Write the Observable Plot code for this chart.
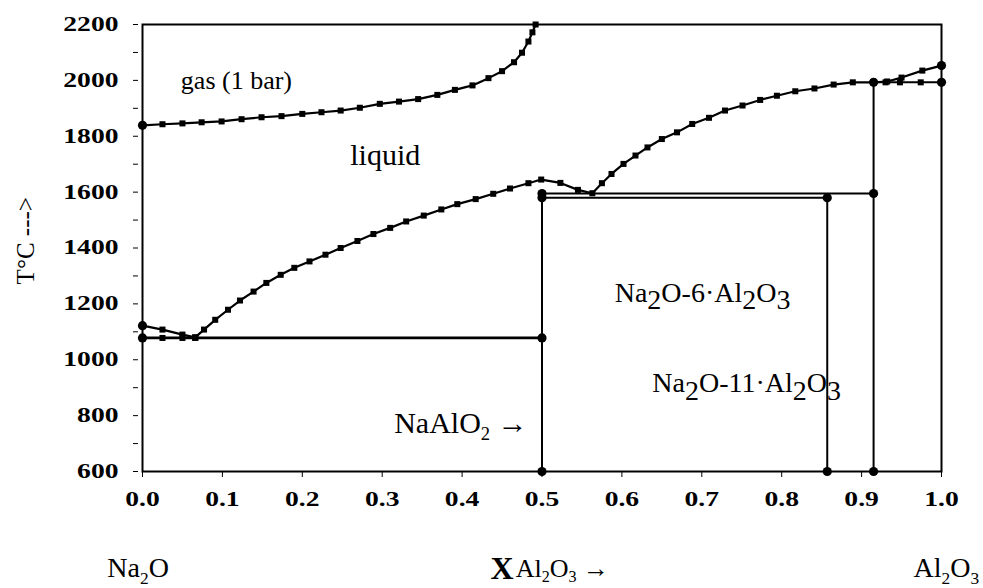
<!DOCTYPE html>
<html><head><meta charset="utf-8">
<script src="https://cdn.jsdelivr.net/npm/d3@7"></script>
<script src="https://cdn.jsdelivr.net/npm/@observablehq/plot@0.6"></script>
<style>
body{margin:0;background:#fff;}
svg{display:block;}
svg text, svg tspan{font-family:"Liberation Serif","Times New Roman",serif !important;}
</style>
</head><body><div id="chart"></div>
<script>
// ---- tick values ----
const xTicks = [0, 0.1, 0.2, 0.3, 0.4, 0.5, 0.6, 0.7, 0.8, 0.9, 1.0];
const yTicks = [600, 800, 1000, 1200, 1400, 1600, 1800, 2000, 2200];
const yMinorTicks = [600, 700, 800, 900, 1000, 1100, 1200, 1300, 1400, 1500, 1600, 1700, 1800, 1900, 2000, 2100, 2200];

// ---- gas (1 bar) boundary ----
const gasX = [0.000, 0.025, 0.050, 0.074, 0.099, 0.124, 0.149, 0.174, 0.200, 0.224, 0.248, 0.272, 0.297, 0.321, 0.345, 0.369, 0.391, 0.413, 0.433, 0.450, 0.465, 0.475, 0.483, 0.488, 0.492];
const gasT = [1839, 1843, 1846, 1850, 1853, 1861, 1868, 1872, 1880, 1886, 1892, 1902, 1916, 1924, 1933, 1948, 1966, 1982, 2008, 2033, 2065, 2099, 2139, 2172, 2200];

// ---- Na2O liquidus ----
const na2oLiqX = [0.000, 0.025, 0.050, 0.066];
const na2oLiqT = [1122, 1108, 1090, 1080];

// ---- main liquidus ----
const liqX = [0.066, 0.077, 0.091, 0.107, 0.122, 0.139, 0.155, 0.173, 0.190, 0.209, 0.229, 0.248, 0.269, 0.289, 0.310, 0.330, 0.352, 0.374, 0.394, 0.417, 0.439, 0.460, 0.483, 0.499, 0.523, 0.545, 0.563, 0.575, 0.587, 0.602, 0.617, 0.632, 0.650, 0.669, 0.688, 0.709, 0.729, 0.751, 0.773, 0.794, 0.817, 0.841, 0.865, 0.889, 0.915];
const liqT = [1080, 1108, 1143, 1179, 1212, 1244, 1275, 1304, 1329, 1352, 1376, 1400, 1425, 1450, 1472, 1495, 1516, 1538, 1557, 1575, 1594, 1613, 1632, 1645, 1633, 1608, 1596, 1632, 1665, 1701, 1731, 1760, 1790, 1814, 1844, 1866, 1892, 1910, 1930, 1945, 1961, 1971, 1985, 1993, 1993];

// ---- Al2O3 liquidus ----
const al2o3LiqX = [0.915, 0.932, 0.950, 0.976, 1.000];
const al2o3LiqT = [1993, 1996, 2010, 2035, 2053];

// ---- points on invariant lines ----
const eutDotsX = [0.000, 0.025, 0.050, 0.066];
const eutDotsT = [1078, 1078, 1078, 1078];
const periDotsX = [0.930, 0.948, 0.974];
const periDotsT = [1993, 1993, 1993];

// ---- phase boundary segments ----
const segX1 = [0.000, 0.500, 0.500, 0.915, 0.500, 0.857, 0.915];
const segT1 = [1078, 1595, 1580, 1993, 600, 600, 600];
const segX2 = [0.500, 0.915, 0.857, 1.000, 0.500, 0.857, 0.915];
const segT2 = [1078, 1595, 1580, 1993, 1595, 1580, 1993];

// ---- junction nodes ----
const nodeX = [0.000, 0.500, 0.500, 0.857, 0.915, 0.500, 0.500, 0.857, 0.915, 0.915, 1.000, 1.000, 0.000, 0.000];
const nodeT = [1078, 1078, 600, 600, 600, 1595, 1580, 1580, 1595, 1993, 1993, 2053, 1122, 1839];

// ---- labels ( _d = small subscript, ~d = full-size lowered digit ) ----
const labelText = ["gas (1 bar)", "liquid", "Na~2O-6·Al~2O~3", "Na~2O-11·Al~2O~3", "NaAlO_2 \u2192", "Na_2O", "Al_2O_3 \u2192", "Al_2O_3"];
const labelX    = [0.048, 0.260, 0.591, 0.638, 0.482, -0.044, 0.467, 0.965];
const labelT    = [2000, 1731, 1240, 915, 772, 253, 253, 253];
const labelSize = [26, 30, 28, 28, 30, 28, 26, 28];
const labelAnchor = ["start", "start", "start", "start", "end", "start", "start", "start"];

const FONT = "Liberation Serif";
const zip = (xs, ts) => xs.map((x, i) => ({x, T: ts[i]}));
const gas = zip(gasX, gasT);
const na2oLiq = zip(na2oLiqX, na2oLiqT);
const liq = zip(liqX, liqT);
const al2o3Liq = zip(al2o3LiqX, al2o3LiqT);
const eutDots = zip(eutDotsX, eutDotsT);
const periDots = zip(periDotsX, periDotsT);
const segs = segX1.map((x1, i) => ({x1, T1: segT1[i], x2: segX2[i], T2: segT2[i]}));
const nodes = zip(nodeX, nodeT);
const labels = labelText.map((t, i) => ({t, x: labelX[i], T: labelT[i], s: labelSize[i], a: labelAnchor[i]}));

const curveMarks = (data) => [
  Plot.line(data, {x: "x", y: "T", stroke: "#000", strokeWidth: 2.2}),
  Plot.dot(data, {x: "x", y: "T", symbol: "square", r: 3.4, fill: "#000"})
];

const textMarks = labels.map(d => Plot.text([d], {
  x: "x", y: "T", text: "t", fontSize: d.s, textAnchor: d.a, fill: "#000", fontFamily: FONT
}));

const chart = Plot.plot({
  width: 983, height: 588,
  marginLeft: 142, marginRight: 42, marginTop: 24, marginBottom: 117,
  style: {background: "#fff", color: "#000"},
  x: {domain: [0, 1]},
  y: {domain: [600, 2200]},
  marks: [
    Plot.axisX({ticks: xTicks, tickFormat: d => d.toFixed(1), tickSize: 6, tickPadding: 14, fontSize: 20, fontWeight: "bold", fontFamily: FONT, fill: "#000", label: null}),
    Plot.axisY({ticks: yMinorTicks, tickSize: 5, text: null, dx: -4, label: null}),
    Plot.axisY({ticks: yTicks, tickFormat: d => String(d), tickSize: 0, tickPadding: 24, fontSize: 20, fontWeight: "bold", fontFamily: FONT, fill: "#000", label: null}),
    Plot.link(segs, {x1: "x1", y1: "T1", x2: "x2", y2: "T2", stroke: "#000", strokeWidth: 2}),
    Plot.link(segs.slice(0, 1), {x1: "x1", y1: "T1", x2: "x2", y2: "T2", stroke: "#000", strokeWidth: 2.8}),
    ...curveMarks(gas),
    ...curveMarks(na2oLiq),
    ...curveMarks(liq),
    ...curveMarks(al2o3Liq),
    Plot.dot(eutDots, {x: "x", y: "T", symbol: "square", r: 3.4, fill: "#000"}),
    Plot.dot(periDots, {x: "x", y: "T", symbol: "square", r: 3.4, fill: "#000"}),
    Plot.dot(nodes, {x: "x", y: "T", r: 4.6, fill: "#000"}),
    Plot.frame({stroke: "#000", strokeWidth: 2}),
    ...textMarks,
    Plot.text(["X"], {x: 0.4355, y: 253, text: d => d, fontSize: 32, fontWeight: "bold", textAnchor: "start", fill: "#000", fontFamily: FONT}),
    Plot.text(["T°C --->"], {x: -0.146, y: 1426, text: d => d, fontSize: 25, rotate: -90, textAnchor: "middle", fill: "#000", fontFamily: FONT})
  ]
});

document.getElementById("chart").appendChild(chart);

// subscripts
d3.select(chart).selectAll("text").each(function() {
  const el = this;
  const s = el.textContent;
  if (!/[_~]\d/.test(s)) return;
  const fs = parseFloat(getComputedStyle(el).fontSize) || 20;
  el.textContent = "";
  const re = /([_~])(\d)/g;
  let last = 0, m, shifted = 0;
  const add = (txt, dy, size) => {
    const t = document.createElementNS("http://www.w3.org/2000/svg", "tspan");
    t.textContent = txt;
    if (dy) t.setAttribute("dy", dy);
    if (size) t.setAttribute("font-size", size);
    el.appendChild(t);
  };
  while ((m = re.exec(s))) {
    if (m.index > last) { add(s.slice(last, m.index), shifted ? -shifted : 0); shifted = 0; }
    const small = m[1] === "_";
    const sh = small ? 0.22 * fs : 0.26 * fs;
    add(m[2], shifted ? 0 : sh, small ? 0.62 * fs : null);
    shifted = sh;
    last = re.lastIndex;
  }
  if (last < s.length) add(s.slice(last), shifted ? -shifted : 0);
});

// widen tick labels like the reference
d3.select(chart).selectAll('g[aria-label="x-axis tick label"] text, g[aria-label="y-axis tick label"] text').each(function() {
  const L = this.getComputedTextLength();
  this.setAttribute("textLength", (L * 1.38).toFixed(1));
  this.setAttribute("lengthAdjust", "spacingAndGlyphs");
});
</script>
</body></html>
